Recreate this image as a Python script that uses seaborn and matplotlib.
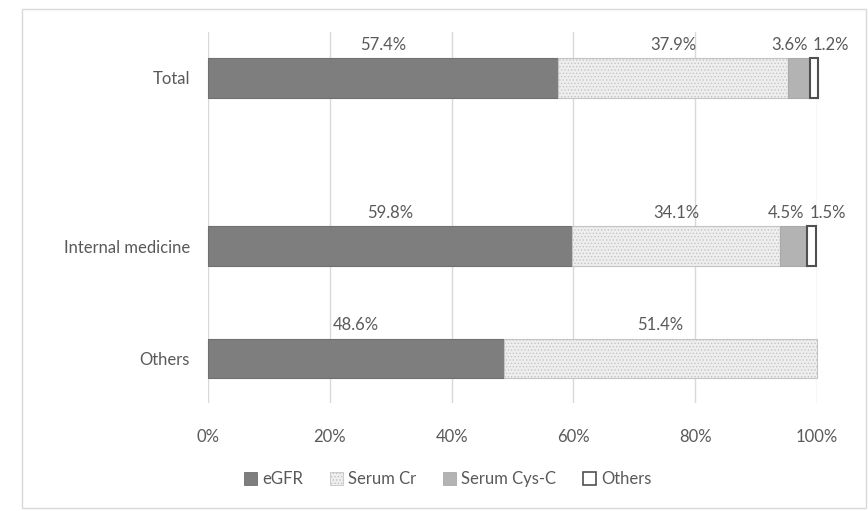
import matplotlib
matplotlib.use("Agg")
import matplotlib.pyplot as plt
import matplotlib.patches as mpatches
from matplotlib.ticker import PercentFormatter
import seaborn as sns
import numpy as np

# Data
categories = ["Total", "Internal medicine", "Others"]
cat_pos = [0, 3, 5]  # uneven spacing as in the original layout
series = ["eGFR", "Serum Cr", "Serum Cys-C", "Others"]
egfr = [57.4, 59.8, 48.6]
serum_cr = [37.9, 34.1, 51.4]
serum_cysc = [3.6, 4.5, 0.0]
others = [1.2, 1.5, 0.0]

sns.set_theme(style="white")
plt.rcParams["font.family"] = ["Lato", "DejaVu Sans"]
plt.rcParams["hatch.linewidth"] = 0.6

text_color = "#595959"
styles = {
    "eGFR": dict(color="#7e7e7e", edgecolor="#707070", hatch=None),
    "Serum Cr": dict(color="#eeeeee", edgecolor="#c4c4c4", hatch="....."),
    "Serum Cys-C": dict(color="#b3b3b3", edgecolor="#aaaaaa", hatch=None),
    "Others": dict(color="white", edgecolor="#505050", hatch=None),
}

fig = plt.figure(figsize=(8.68, 5.11), dpi=100)
ax = fig.add_axes([208 / 868, 1 - 403 / 511, (817 - 208) / 868, (403 - 32) / 511])

values = {"eGFR": egfr, "Serum Cr": serum_cr, "Serum Cys-C": serum_cysc, "Others": others}
left = np.zeros(len(categories))
bar_h = 0.7
for name in series:
    vals = np.array(values[name])
    st = styles[name]
    lw = 1.5 if name == "Others" else 0.8
    bars = ax.barh(cat_pos, vals, left=left, height=bar_h, color=st["color"],
                   edgecolor=st["edgecolor"], hatch=st["hatch"], linewidth=lw, zorder=3)
    for b, v in zip(bars, vals):
        b.set_clip_on(False)
        if v <= 0:
            b.set_visible(False)
    for i, v in enumerate(vals):
        if v <= 0:
            continue
        y_lab = cat_pos[i] - bar_h / 2
        if name == "Serum Cys-C":
            x_lab, ha, dx = left[i] + v, "right", -2
        elif name == "Others":
            x_lab, ha, dx = left[i], "left", 2
        else:
            x_lab, ha, dx = left[i] + v / 2, "center", 0
        ax.annotate(f"{v:.1f}%", (x_lab, y_lab), xytext=(dx, 4),
                    textcoords="offset points", ha=ha, va="bottom",
                    fontsize=12, color=text_color)
    left += vals

ax.set_xlim(0, 100)
ax.set_ylim(5.8, -0.82)
ax.set_xticks(np.arange(0, 101, 20))
ax.xaxis.set_major_formatter(PercentFormatter(decimals=0))
ax.set_yticks(cat_pos)
ax.set_yticklabels(categories)
ax.tick_params(axis="x", length=0, pad=19, labelsize=12, labelcolor=text_color)
ax.tick_params(axis="y", length=0, pad=13, labelsize=12, labelcolor=text_color)
ax.grid(axis="x", color="#d9d9d9", linewidth=1, zorder=0)
ax.grid(axis="y", visible=False)
sns.despine(ax=ax, left=True, bottom=True)

handles = [mpatches.Patch(facecolor=styles[n]["color"], edgecolor=styles[n]["edgecolor"],
                          hatch=styles[n]["hatch"], linewidth=1.2 if n == "Others" else 0.6,
                          label=n) for n in series]
fig.legend(handles=handles, loc="center", bbox_to_anchor=(448 / 868, 1 - 479 / 511),
           ncol=4, frameon=False, fontsize=12, labelcolor=text_color,
           handlelength=0.8, handleheight=0.8, handletextpad=0.3, columnspacing=1.6)

# outer chart frame
fig.patches.append(mpatches.Rectangle((22 / 868, 1 - 508 / 511), (866 - 22) / 868,
                                      (508 - 9) / 511, transform=fig.transFigure,
                                      fill=False, edgecolor="#d9d9d9", linewidth=1))

fig.savefig("out.png", dpi=100)
